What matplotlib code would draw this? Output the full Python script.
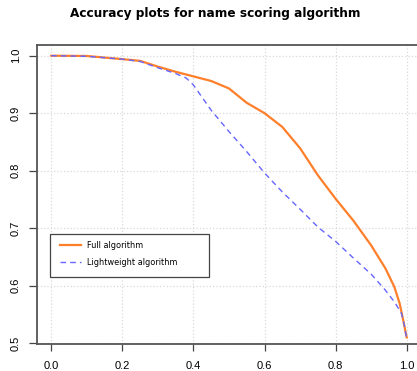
import numpy as np
from matplotlib import pyplot as plt
from matplotlib.patches import Rectangle

# threshold values and accuracy for the two algorithms
x_full = [0.0, 0.1, 0.2, 0.25, 0.3, 0.35, 0.4, 0.45, 0.5, 0.55, 0.6, 0.65,
          0.7, 0.75, 0.8, 0.85, 0.9, 0.94, 0.965, 0.98, 0.99, 0.997, 1.0]
y_full = [1.0, 0.9995, 0.994, 0.991, 0.981, 0.972, 0.964, 0.956, 0.943, 0.918,
          0.900, 0.876, 0.839, 0.792, 0.751, 0.713, 0.670, 0.630, 0.598, 0.569,
          0.540, 0.518, 0.51]

x_light = [0.0, 0.1, 0.2, 0.25, 0.3, 0.35, 0.38, 0.4, 0.45, 0.5, 0.55, 0.6,
           0.65, 0.7, 0.75, 0.8, 0.85, 0.9, 0.94, 0.965, 0.985, 0.994, 1.0]
y_light = [1.0, 0.999, 0.994, 0.99, 0.979, 0.969, 0.961, 0.949, 0.905, 0.868,
           0.833, 0.796, 0.763, 0.733, 0.702, 0.677, 0.648, 0.620, 0.592, 0.572,
           0.552, 0.529, 0.506]

x_ticks = [0.0, 0.2, 0.4, 0.6, 0.8, 1.0]
y_ticks = [0.5, 0.6, 0.7, 0.8, 0.9, 1.0]

W, H = 417, 371
fig = plt.figure(figsize=(W / 100, H / 100), dpi=100)
ax = fig.add_axes([37 / W, 27 / H, 384 / W, 299 / H])

ax.plot(x_full, y_full, color='#ff7f2a', lw=1.6, label='Full algorithm')
ax.plot(x_light, y_light, color='#6666ff', lw=1.0, ls=(0, (4, 3)),
        label='Lightweight algorithm')

ax.set_xlim(-0.04, 1.04)
ax.set_ylim(0.4986, 1.0186)
ax.set_xticks(x_ticks)
ax.set_yticks(y_ticks)
ax.set_xticklabels(['%.1f' % v for v in x_ticks], fontsize=8, family='Liberation Sans')
ax.set_yticklabels(['%.1f' % v for v in y_ticks], fontsize=8, family='Liberation Sans',
                   rotation=90, va='center')
ax.tick_params(axis='x', length=5, width=0.9, color='#444444', pad=7)
ax.tick_params(axis='y', length=5.5, width=0.9, color='#444444', pad=6)
ax.grid(True, ls=':', color='#d9d9d9', lw=0.9)

for s in ['left', 'bottom', 'top']:
    ax.spines[s].set_color('#555555')
    ax.spines[s].set_linewidth(1.3)
ax.spines['right'].set_visible(False)

fig.text(215 / W, 1 - 13 / H, 'Accuracy plots for name scoring algorithm',
         ha='center', va='center', fontsize=8.7, fontweight='bold')

# legend box like R's, text sitting inside with a wide right margin
box = Rectangle((50 / W, 1 - 277 / H), 159 / W, 43 / H, transform=fig.transFigure,
                fill=True, facecolor='white', edgecolor='#444444', lw=0.9, zorder=5)
fig.add_artist(box)
leg = fig.legend(loc='upper left', bbox_to_anchor=(60 / W, 1 - 241 / H), fontsize=5.9,
                 frameon=False, borderpad=0, labelspacing=0.95,
                 handlelength=2.6, handletextpad=0.7, borderaxespad=0)
leg.set_zorder(6)

fig.savefig('out.png', dpi=100)
